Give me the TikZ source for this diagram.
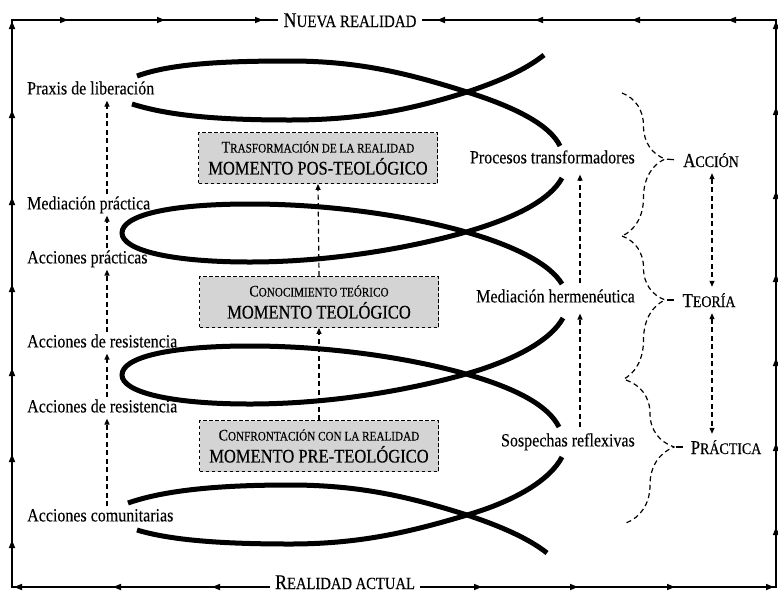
\documentclass[tikz,border=0pt]{standalone}
\usepackage{fontspec}
\setmainfont[FakeStretch=0.86,FakeBold=0.2]{Liberation Serif}
\newfontfamily\heavy[FakeStretch=0.86,FakeBold=0.4]{Liberation Serif}
\usetikzlibrary{arrows.meta,decorations.pathreplacing}

% font size switch used for hand-made small capitals
\newcommand{\fsz}[1]{\fontsize{#1}{#1}\selectfont}

\begin{document}
\begin{tikzpicture}[x=1pt,y=-1pt,
  frame/.style={line width=1.6pt, line join=miter},
  framehead/.style={line width=1.6pt, -{Triangle[length=8pt,width=6pt]}},
  fish/.style={line width=5pt, line cap=butt},
  lbl/.style={font=\fontsize{18.6}{22}\selectfont, inner sep=2pt, text height=12.8pt, text depth=4pt},
  sclbl/.style={font=\heavy, inner sep=5pt, text height=14pt, text depth=0pt},
  dasharrow/.style={line width=1.2pt, dash pattern=on 5pt off 3.5pt, -{Triangle[length=6pt,width=5pt]}},
  dasharrows/.style={line width=1.2pt, dash pattern=on 5pt off 3.5pt, {Triangle[length=6pt,width=5pt]}-{Triangle[length=6pt,width=5pt]}},
  momentbox/.style={draw, fill=black!17, line width=0.9pt, dash pattern=on 3.5pt off 2.5pt,
    minimum width=239pt, minimum height=51pt, align=center, inner sep=2pt,
    font=\heavy\fontsize{19.2}{22}\selectfont},
  bracestyle/.style={decorate, line width=1.2pt, dash pattern=on 5pt off 3.5pt},
  tipdash/.style={line width=1.2pt, dash pattern=on 7pt off 30pt, shorten <=2pt},
]
\useasboundingbox (0,0) rectangle (778,592);
\fill[white] (0,0) rectangle (778,592);

% ---------- outer frame ----------
\coordinate (BL) at (12,587);
\coordinate (TL) at (12,20);
\coordinate (TR) at (776,20);
\coordinate (BR) at (776,587);

\node[sclbl] (nueva) at (350,20) {\fsz{20.9}N\fsz{17.4}UEVA REALIDAD};
\node[sclbl, inner ysep=0.5pt] (actual) at (345,582) {\fsz{20.9}R\fsz{17}EALIDAD ACTUAL};

\draw[frame] (actual.west |- BL) -- (BL) -- (TL) -- (nueva.west);
\draw[frame] (actual.east |- BR) -- (BR) -- (TR) -- (nueva.east);

% direction marks along the frame
\foreach \x in {212,113,14} \draw[framehead] (\x+5,587) -- (\x,587);
\foreach \y in {540,454,368,284,197,110,21} \draw[framehead] (12,\y+5) -- (12,\y);
\foreach \x in {68,165,263} \draw[framehead] (\x-5,20) -- (\x,20);
\foreach \x in {437,535,632,728} \draw[framehead] (\x+5,20) -- (\x,20);
\foreach \y in {527,443,358,274,191,107,21} \draw[framehead] (776,\y+5) -- (776,\y);
\foreach \x in {482,578,675,774} \draw[framehead] (\x-5,587) -- (\x,587);

% ---------- the winding strokes ----------
% top tail
\draw[fish] (137,76) .. controls (170,64) and (220,61) .. (290,61)
  .. controls (360,61) and (410,74) .. (467,92)
  .. controls (515,107) and (550,125) .. (560,146);
\draw[fish] (132,104) .. controls (170,116) and (220,120) .. (290,120)
  .. controls (360,120) and (410,110) .. (467,92)
  .. controls (500,81) and (525,70) .. (544,55);
% upper loop
\draw[fish] (562,178) .. controls (550,200) and (515,218) .. (466,232)
  .. controls (410,248) and (330,262) .. (250,262)
  .. controls (170,262) and (122,250) .. (122,233)
  .. controls (122,215) and (170,204) .. (250,204)
  .. controls (330,204) and (410,216) .. (466,232)
  .. controls (515,246) and (550,264) .. (562,284);
% lower loop
\draw[fish] (563,318) .. controls (551,340) and (515,360) .. (466,374)
  .. controls (410,390) and (330,404) .. (250,404)
  .. controls (170,404) and (122,392) .. (122,375)
  .. controls (122,357) and (170,346) .. (250,346)
  .. controls (330,346) and (410,358) .. (466,374)
  .. controls (515,388) and (548,405) .. (559,427);
% bottom tail
\draw[fish] (562,457) .. controls (550,480) and (515,501) .. (467,515)
  .. controls (410,532) and (360,544) .. (290,544)
  .. controls (220,544) and (170,540) .. (137,530);
\draw[fish] (128,503) .. controls (165,490) and (220,485) .. (290,485)
  .. controls (360,485) and (410,497) .. (467,515)
  .. controls (500,526) and (528,538) .. (547,553);

% ---------- left column ----------
\node[lbl, anchor=west] (praxis) at (25,90) {Praxis de liberación};
\node[lbl, anchor=west] (medp) at (25,205) {Mediación práctica};
\node[lbl, anchor=west] (accp) at (25,259) {Acciones prácticas};
\node[lbl, anchor=west] (res1) at (25,343) {Acciones de resistencia};
\node[lbl, anchor=west] (res2) at (25,408) {Acciones de resistencia};
\node[lbl, anchor=west] (acom) at (25,517) {Acciones comunitarias};

\coordinate (colL) at (107,0);
\draw[dasharrow] (acom.north -| colL) -- (res2.south -| colL);
\draw[dasharrow] (res2.north -| colL) -- (res1.south -| colL);
\draw[dasharrow] (res1.north -| colL) -- (accp.south -| colL);
\draw[dasharrow] (accp.north -| colL) -- (medp.south -| colL);
\draw[dasharrow] (medp.north -| colL) -- (praxis.south -| colL);

% ---------- central moments ----------
\node[momentbox] (b1) at (318,158)
  {{\rmfamily\fsz{16.2}T\fsz{13}RASFORMACIÓN DE LA REALIDAD}\\MOMENTO POS-TEOLÓGICO};
\node[momentbox] (b2) at (319,302)
  {{\rmfamily\fsz{16.2}C\fsz{13}ONOCIMIENTO TEÓRICO}\\MOMENTO TEOLÓGICO};
\node[momentbox] (b3) at (319,446)
  {{\rmfamily\fsz{16.2}C\fsz{13}ONFRONTACIÓN CON LA REALIDAD}\\MOMENTO PRE-TEOLÓGICO};
\draw[dasharrow] (b3.north) -- (b2.south);
\draw[dasharrow] (b2.north) -- (b1.south);

% ---------- right column ----------
\node[lbl, anchor=east] (proc) at (637,159) {Procesos transformadores};
\node[lbl, anchor=east] (medh) at (637,298) {Mediación hermenéutica};
\node[lbl, anchor=east] (sosp) at (637,442) {Sospechas reflexivas};

\coordinate (colM) at (580,0);
\draw[dasharrow, shorten <=4pt, shorten >=5pt] (sosp.north -| colM) -- (medh.south -| colM);
\draw[dasharrow, shorten <=4pt, shorten >=5pt] (medh.north -| colM) -- (proc.south -| colM);

% ---------- braces ----------
\coordinate (k0) at (622,93);
\coordinate (k1) at (622,236);
\coordinate (k2) at (622,380);
\coordinate (k2b) at (626,380);
\coordinate (k3) at (626,523);
\draw[bracestyle, decoration={brace, amplitude=43pt, aspect=0.4615}] (k0) -- (k1);
\draw[bracestyle, decoration={brace, amplitude=43pt, aspect=0.444}] (k1) -- (k2);
\draw[bracestyle, decoration={brace, amplitude=48pt, aspect=0.4685}] (k2b) -- (k3);
\coordinate (t1) at (665,159);
\coordinate (t2) at (665,300);
\coordinate (t3) at (674,447);

\node[sclbl] (accion) at (711,160) {\fsz{19.7}A\fsz{16.2}CCIÓN};
\node[sclbl] (teoria) at (709,300) {\fsz{19.7}T\fsz{16.2}EORÍA};
\node[sclbl] (practica) at (726,447) {\fsz{19.7}P\fsz{16.2}RÁCTICA};

\draw[tipdash] (t1) -- (accion.west);
\draw[tipdash] (t2) -- (teoria.west);
\draw[tipdash] (t3) -- (practica.west);

\coordinate (colR) at (712,0);
\draw[dasharrows, shorten <=1pt, shorten >=1pt] (accion.south -| colR) -- (teoria.north -| colR);
\draw[dasharrows, shorten <=1pt, shorten >=1pt] (teoria.south -| colR) -- (practica.north -| colR);
\end{tikzpicture}
\end{document}
